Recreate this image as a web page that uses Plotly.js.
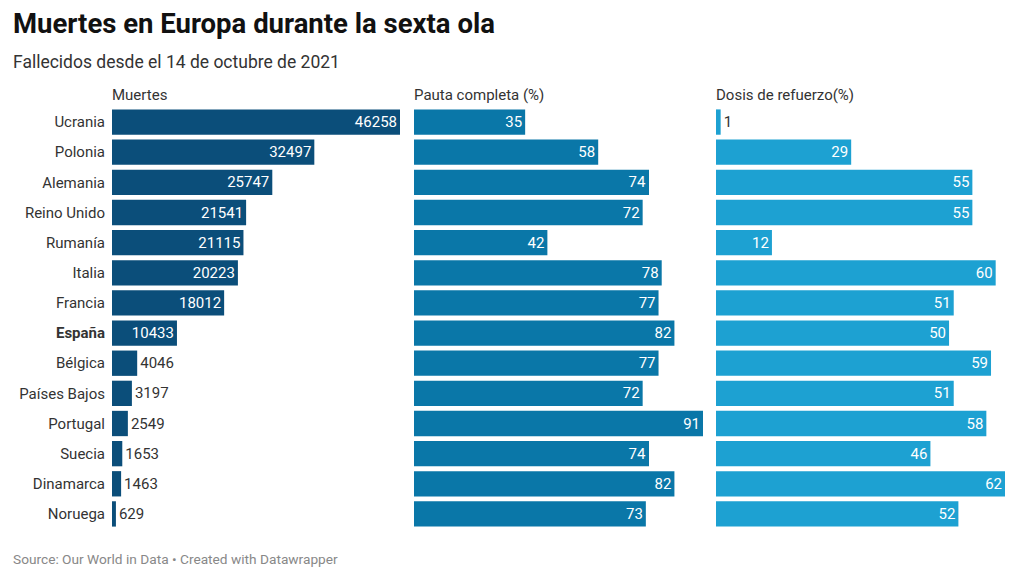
<!DOCTYPE html>
<html><head><meta charset="utf-8">
<script src="https://cdn.plot.ly/plotly-3.0.1.min.js"></script>
<style>html,body{margin:0;padding:0;background:#fff}#chart{width:1024px;height:576px}</style>
</head><body><div id="chart"></div>
<script>
const countries = ["Ucrania","Polonia","Alemania","Reino Unido","Rumanía","Italia","Francia","España","Bélgica","Países Bajos","Portugal","Suecia","Dinamarca","Noruega"];
const deaths = [46258,32497,25747,21541,21115,20223,18012,10433,4046,3197,2549,1653,1463,629];
const fullVax = [35,58,74,72,42,78,77,82,77,72,91,74,82,73];
const booster = [1,29,55,55,12,60,51,50,59,51,58,46,62,52];
const tickLabels = countries.map(c => c === "España" ? "<b>España</b>" : c);
const panelTitles = ["Muertes","Pauta completa (%)","Dosis de refuerzo(%)"];
const colors = ["#0b4e7a","#0a77a8","#1da1d2"];

const FONT = "Roboto, 'Open Sans', sans-serif";
function barTrace(vals, xa, color){
  return {
    type:"bar", orientation:"h", y:countries, x:vals, xaxis:xa, yaxis:"y",
    marker:{color:color, line:{width:0}},
    text:vals.map(String), textposition:"auto", textangle:0,
    constraintext:"none", insidetextanchor:"end",
    insidetextfont:{color:"#ffffff", size:15, family:FONT},
    outsidetextfont:{color:"#333333", size:15, family:FONT},
    hoverinfo:"none", cliponaxis:false
  };
}
const data = [barTrace(deaths,"x",colors[0]), barTrace(fullVax,"x2",colors[1]), barTrace(booster,"x3",colors[2])];

const W = 1024, H = 576;
const doms = [[112/W,400/W],[414/W,703/W],[716/W,1005/W]];
const maxes = [Math.max(...deaths), Math.max(...fullVax), Math.max(...booster)];
function xax(i){
  return {domain:doms[i], range:[0,maxes[i]], showgrid:false, zeroline:false, showticklabels:false, ticks:"", showline:false, anchor:"y", fixedrange:true};
}
const py = p => 1 - p/H;
const layout = {
  width:W, height:H, margin:{l:0,r:0,t:0,b:0},
  paper_bgcolor:"#fff", plot_bgcolor:"#fff",
  font:{family:FONT, color:"#333", size:15},
  showlegend:false, bargap:0.16,
  xaxis:xax(0), xaxis2:xax(1), xaxis3:xax(2),
  yaxis:{type:"category", categoryorder:"array", categoryarray:countries, autorange:"reversed",
    domain:[py(529), py(107)],
    tickvals:countries, ticktext:tickLabels, ticks:"outside", ticklen:3, tickcolor:"rgba(0,0,0,0)",
    showgrid:false, zeroline:false, showline:false, anchor:"x",
    tickfont:{size:15, color:"#333", family:FONT}},
  annotations:[
    {text:"<b>Muertes en Europa durante la sexta ola</b>", xref:"paper", yref:"paper", x:11/W, y:py(23), xanchor:"left", yanchor:"middle", showarrow:false, font:{size:27.5, color:"#111", family:FONT}},
    {text:"Fallecidos desde el 14 de octubre de 2021", xref:"paper", yref:"paper", x:11/W, y:py(62), xanchor:"left", yanchor:"middle", showarrow:false, font:{size:17.5, color:"#333", family:FONT}},
    {text:"Source: Our World in Data • Created with Datawrapper", xref:"paper", yref:"paper", x:11/W, y:py(559), xanchor:"left", yanchor:"middle", showarrow:false, font:{size:13.7, color:"#888", family:FONT}}
  ].concat(panelTitles.map((t,i)=>({text:t, xref:"paper", yref:"paper", x:doms[i][0]-2/W, y:py(95), xanchor:"left", yanchor:"middle", showarrow:false, font:{size:15, color:"#333", family:FONT}})))
};
Plotly.newPlot("chart", data, layout, {displayModeBar:false, staticPlot:true});
</script></body></html>
